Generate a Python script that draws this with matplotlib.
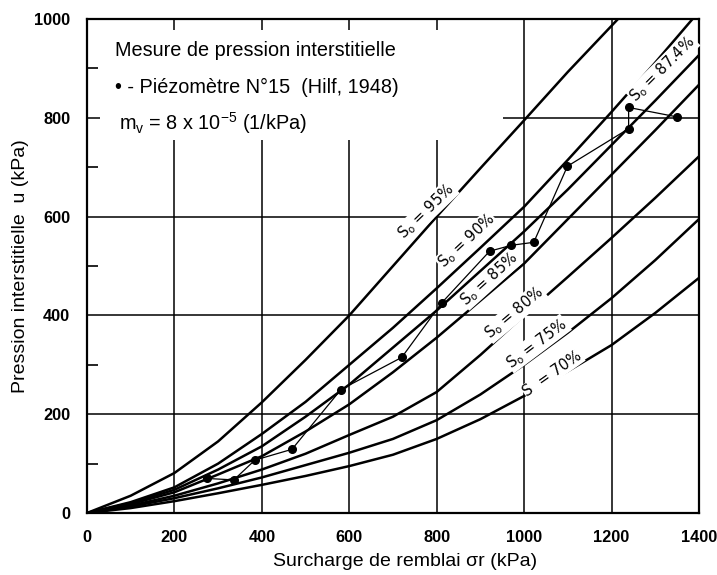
import matplotlib.pyplot as plt
from matplotlib.patches import Rectangle

plt.rcParams['font.family'] = ['Liberation Sans', 'DejaVu Sans']
plt.rcParams['mathtext.default'] = 'regular'

# courbes theoriques u = f(sigma) pour differents degres de saturation initiale
sigma = [0, 100, 200, 300, 400, 500, 600, 700, 800, 900, 1000, 1100, 1200, 1300, 1400]
sigma_95 = [0, 100, 200, 300, 400, 500, 600, 700, 800, 900, 1000, 1100, 1220]
u_95 = [0, 35, 81, 145, 224, 310, 400, 500, 600, 698, 795, 893, 1005]
sigma_90 = [0, 100, 200, 300, 400, 500, 600, 700, 800, 900, 1000, 1100, 1200, 1300, 1390]
u_90 = [0, 22, 52, 100, 160, 225, 300, 375, 455, 537, 620, 715, 812, 912, 1005]
u_874 = [0, 20, 47, 88, 135, 195, 260, 335, 410, 490, 570, 655, 745, 835, 927]
u_85 = [0, 18, 42, 78, 115, 165, 220, 285, 355, 430, 505, 595, 685, 775, 867]
u_80 = [0, 15, 35, 60, 88, 120, 158, 195, 245, 320, 400, 478, 557, 638, 722]
u_75 = [0, 13, 30, 50, 72, 97, 122, 150, 188, 240, 300, 365, 435, 512, 595]
u_70 = [0, 10, 24, 40, 57, 75, 95, 118, 150, 190, 237, 287, 340, 405, 476]

# mesures piezometre N°15
sigma_mes = [274, 336, 384, 469, 581, 720, 811, 921, 971, 1022, 1099, 1239, 1239, 1349]
u_mes = [70, 67, 107, 129, 250, 315, 425, 530, 542, 548, 702, 778, 821, 802]

# etiquettes des courbes
etiquettes = ['S$_o$ = 95%', 'S$_o$ = 90%', 'S$_o$ = 87.4%', 'S$_o$ = 85%',
              'S$_o$ = 80%', 'S$_o$ = 75%', 'S  = 70%']
etiq_x = [777, 869, 1317, 921, 978, 1029, 1065]
etiq_y = [611, 550, 899, 474, 405, 343, 282]
etiq_rot = [44, 43, 45, 42, 40, 37, 35]

fig = plt.figure(figsize=(7.17, 5.75), dpi=100)
ax = fig.add_axes([0.1213, 0.1078, 0.8536, 0.8591])

ax.plot(sigma_95, u_95, color='black', lw=1.8)
ax.plot(sigma_90, u_90, color='black', lw=1.8)
for u in [u_874, u_85, u_80, u_75, u_70]:
    ax.plot(sigma, u, color='black', lw=1.8)

ax.plot(sigma_mes, u_mes, '-', color='black', lw=0.9, marker='o', markersize=5.5, zorder=4)

for txt, x, y, r in zip(etiquettes, etiq_x, etiq_y, etiq_rot):
    ax.text(x, y, txt, rotation=r, ha='center', va='center', fontsize=10.5,
            family='DejaVu Sans', rotation_mode='anchor', zorder=3,
            bbox=dict(facecolor='white', edgecolor='none', pad=0.5))

# cadre blanc de la legende
ax.add_patch(Rectangle((30, 756), 921, 222, facecolor='white', edgecolor='none', zorder=2.5))
ax.text(64, 937, 'Mesure de pression interstitielle', fontsize=14.3, va='center', zorder=3)
ax.text(64, 861, '\u2022 - Piézomètre N°15  (Hilf, 1948)', fontsize=14.3, va='center', zorder=3)
ax.text(73, 790, 'm$_v$ = 8 x 10$^{-5}$ (1/kPa)', fontsize=14.3, va='center', zorder=3)

ax.set_xlim(0, 1400)
ax.set_ylim(0, 1000)
ax.set_xticks(range(0, 1401, 200))
ax.set_yticks(range(0, 1001, 200))
ax.set_yticks(range(100, 1000, 200), minor=True)
ax.tick_params(which='major', length=0, pad=12, labelsize=11.8)
ax.tick_params(axis='y', which='minor', direction='in', length=8, width=1.2)
for lab in ax.get_xticklabels() + ax.get_yticklabels():
    lab.set_fontweight('bold')
ax.grid(True, color='black', lw=1.1)
ax.set_axisbelow(True)
for s in ax.spines.values():
    s.set_linewidth(1.6)

ax.set_xlabel('Surcharge de remblai σr (kPa)', fontsize=14)
ax.xaxis.set_label_coords(0.52, -0.08)
ax.set_ylabel('Pression interstitielle  u (kPa)', fontsize=14)
ax.yaxis.set_label_coords(-0.094, 0.5)

fig.savefig('out.png', dpi=100)
